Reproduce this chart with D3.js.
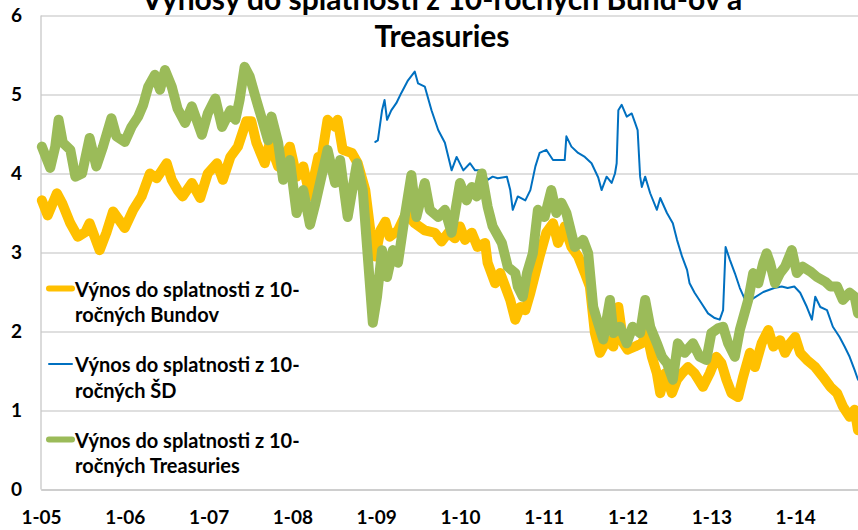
<!DOCTYPE html>
<html lang="sk">
<head>
<meta charset="UTF-8">
<title>Výnosy do splatnosti z 10-ročných Bund-ov a Treasuries</title>
<script src="https://cdn.jsdelivr.net/npm/d3@7"></script>
<style>
  html, body { margin: 0; padding: 0; background: #fff; }
  svg { display: block; font-family: Lato, "Open Sans", sans-serif; }
</style>
</head>
<body>
<div id="chart"></div>
<script>
// decimal years and yields (%)
var bundYears = [2005.01,2005.08,2005.19,2005.25,2005.35,2005.44,2005.53,2005.58,2005.70,2005.78,2005.86,
  2006.00,2006.10,2006.20,2006.30,2006.38,2006.50,2006.56,2006.63,2006.69,2006.80,2006.90,2006.99,
  2007.10,2007.17,2007.26,2007.35,2007.45,2007.51,2007.57,2007.67,2007.73,2007.83,2007.97,
  2008.05,2008.13,2008.21,2008.31,2008.35,2008.42,2008.51,2008.54,2008.60,2008.71,2008.78,2008.87,2008.93,2008.99,
  2009.05,2009.11,2009.16,2009.26,2009.36,2009.46,2009.58,2009.70,2009.78,2009.86,2009.94,
  2010.00,2010.06,2010.14,2010.21,2010.30,2010.33,2010.42,2010.48,2010.54,2010.60,2010.66,2010.72,2010.78,2010.84,2010.90,2010.95,
  2011.03,2011.11,2011.17,2011.25,2011.33,2011.41,2011.49,2011.55,2011.61,2011.67,2011.75,2011.83,2011.89,2011.95,
  2012.00,2012.09,2012.17,2012.23,2012.29,2012.35,2012.39,2012.45,2012.53,2012.59,2012.65,2012.72,2012.80,2012.90,2012.98,
  2013.06,2013.12,2013.18,2013.24,2013.32,2013.38,2013.46,2013.52,2013.60,2013.68,2013.74,2013.82,2013.88,2013.94,
  2014.00,2014.06,2014.14,2014.24,2014.33,2014.42,2014.50,2014.57,2014.65,2014.71,2014.75];
var bundValues = [3.66,3.47,3.75,3.63,3.37,3.20,3.26,3.37,3.03,3.25,3.52,
  3.31,3.54,3.71,4.00,3.94,4.13,3.92,3.79,3.71,3.88,3.69,4.00,
  4.13,3.92,4.21,4.34,4.66,4.66,4.39,4.13,4.39,4.09,4.34,
  3.96,4.09,3.71,4.21,4.21,4.68,4.59,4.68,4.30,4.26,4.13,3.79,3.28,2.95,
  3.28,3.39,3.20,3.28,3.50,3.37,3.28,3.25,3.14,3.25,3.18,
  3.33,3.16,3.25,3.07,3.12,2.87,2.61,2.74,2.57,2.40,2.15,2.31,2.27,2.49,2.74,2.95,
  3.25,3.37,3.12,3.33,3.07,2.95,2.74,2.57,1.98,1.73,1.89,1.81,2.31,1.85,
  1.77,1.81,1.85,1.98,1.68,1.47,1.22,1.47,1.22,1.39,1.47,1.55,1.47,1.30,1.47,
  1.68,1.60,1.39,1.22,1.17,1.43,1.73,1.55,1.85,2.02,1.81,1.89,1.73,1.85,
  1.93,1.73,1.64,1.55,1.43,1.30,1.22,1.05,0.92,1.01,0.75];

var sdYears = [2008.99,2009.02,2009.07,2009.10,2009.13,2009.18,2009.24,2009.30,2009.38,2009.46,2009.50,2009.58,2009.66,2009.74,2009.82,2009.90,2009.96,
  2010.04,2010.12,2010.18,2010.26,2010.33,2010.39,2010.45,2010.56,2010.60,2010.63,2010.69,2010.78,2010.84,2010.90,2010.95,
  2011.03,2011.11,2011.25,2011.27,2011.33,2011.41,2011.49,2011.57,2011.65,2011.69,2011.75,2011.81,2011.85,2011.87,2011.89,2011.93,2011.99,
  2012.05,2012.09,2012.12,2012.15,2012.17,2012.21,2012.27,2012.35,2012.39,2012.47,2012.54,2012.59,2012.65,2012.71,2012.74,2012.80,2012.88,2012.96,
  2013.04,2013.10,2013.14,2013.17,2013.22,2013.28,2013.34,2013.42,2013.50,2013.62,2013.75,2013.84,2013.91,2013.99,
  2014.06,2014.14,2014.20,2014.24,2014.30,2014.38,2014.45,2014.53,2014.59,2014.65,2014.71,2014.75];
var sdValues = [4.40,4.42,4.80,4.93,4.68,4.80,4.89,5.02,5.18,5.29,5.14,5.10,4.80,4.55,4.39,4.04,4.21,
  4.04,4.13,4.04,4.04,3.92,3.96,3.94,3.96,3.79,3.54,3.71,3.66,3.79,4.09,4.26,
  4.30,4.17,4.17,4.47,4.34,4.26,4.21,4.13,3.95,3.79,3.96,3.88,4.00,4.13,4.80,4.87,4.72,
  4.76,4.64,4.55,3.96,3.83,3.96,3.75,3.54,3.69,3.50,3.37,3.16,2.95,2.78,2.61,2.49,2.36,2.23,
  2.17,2.15,2.27,3.07,2.91,2.74,2.55,2.36,2.42,2.50,2.55,2.57,2.55,2.57,
  2.49,2.31,2.15,2.44,2.31,2.27,2.06,1.93,1.81,1.68,1.51,1.39];

var tsyYears = [2005.01,2005.11,2005.17,2005.21,2005.26,2005.35,2005.41,2005.49,2005.58,2005.66,2005.74,2005.84,2005.90,
  2006.00,2006.08,2006.16,2006.22,2006.28,2006.36,2006.42,2006.48,2006.56,2006.63,2006.72,2006.80,2006.92,2006.99,
  2007.08,2007.16,2007.26,2007.32,2007.37,2007.43,2007.49,2007.57,2007.65,2007.71,2007.75,2007.83,2007.89,2007.97,
  2008.05,2008.13,2008.21,2008.27,2008.33,2008.42,2008.51,2008.57,2008.66,2008.77,2008.84,2008.90,2008.96,
  2009.01,2009.07,2009.13,2009.20,2009.26,2009.34,2009.42,2009.48,2009.58,2009.64,2009.74,2009.82,2009.90,2009.94,
  2010.00,2010.08,2010.14,2010.20,2010.26,2010.33,2010.39,2010.50,2010.57,2010.66,2010.69,2010.75,2010.80,2010.87,2010.93,
  2011.01,2011.09,2011.15,2011.21,2011.27,2011.37,2011.47,2011.53,2011.59,2011.65,2011.71,2011.79,2011.83,2011.91,2011.99,
  2012.06,2012.15,2012.21,2012.27,2012.35,2012.41,2012.47,2012.54,2012.60,2012.68,2012.78,2012.86,2012.94,
  2013.00,2013.08,2013.14,2013.20,2013.28,2013.34,2013.44,2013.50,2013.56,2013.62,2013.66,2013.70,2013.76,2013.82,2013.88,2013.96,
  2014.02,2014.09,2014.18,2014.26,2014.36,2014.42,2014.50,2014.57,2014.65,2014.71,2014.75];
var tsyValues = [4.34,4.07,4.34,4.68,4.39,4.30,3.96,4.00,4.45,4.09,4.34,4.70,4.47,
  4.40,4.59,4.72,4.87,5.10,5.25,5.06,5.31,5.10,4.82,4.64,4.85,4.49,4.76,
  4.95,4.59,4.80,4.68,4.93,5.35,5.23,4.93,4.64,4.42,4.72,4.39,3.92,4.17,
  3.50,3.79,3.35,3.60,3.88,4.30,3.88,4.17,3.45,4.13,3.79,2.95,2.11,
  2.44,3.03,2.69,3.03,2.87,3.45,3.98,3.45,3.88,3.54,3.45,3.54,3.25,3.50,
  3.88,3.66,3.83,3.71,4.00,3.58,3.33,3.12,2.82,2.74,2.57,2.44,2.74,2.99,3.54,
  3.45,3.79,3.50,3.63,3.50,3.07,3.16,2.99,2.31,2.10,1.90,2.40,1.98,2.06,1.85,
  2.06,1.98,2.40,2.06,1.85,1.68,1.60,1.39,1.85,1.73,1.85,1.68,1.64,
  1.98,2.04,2.06,1.85,1.68,2.02,2.40,2.74,2.61,2.87,2.99,2.87,2.61,2.74,2.82,3.03,
  2.74,2.82,2.76,2.69,2.63,2.57,2.57,2.40,2.49,2.44,2.23];

var yearTicks = [2005,2006,2007,2008,2009,2010,2011,2012,2013,2014];
var yTicks = [0,1,2,3,4,5,6];
var titleLines = ["Výnosy do splatnosti z 10-ročných Bund-ov a", "Treasuries"];
var seriesNames = [["Výnos do splatnosti z 10-", "ročných Bundov"],
                   ["Výnos do splatnosti z 10-", "ročných ŠD"],
                   ["Výnos do splatnosti z 10-", "ročných Treasuries"]];
var colors = ["#FFC000", "#0070C0", "#9BBB59"];
var widths = [10, 2, 10];

var W = 858, H = 530;
var margin = {top: 15.5, right: 0, bottom: 40.5, left: 41};
var width = W - margin.left - margin.right,
    height = H - margin.top - margin.bottom;

var svg = d3.select("#chart").append("svg")
  .attr("width", W).attr("height", H);

var g = svg.append("g")
  .attr("transform", "translate(" + margin.left + "," + margin.top + ")");

var x = d3.scaleLinear().domain([2005, 2014.75]).range([0, width]);
var y = d3.scaleLinear().domain([0, 6]).range([height, 0]);

// gridlines
g.append("g")
  .attr("class", "grid")
  .call(d3.axisLeft(y).tickValues(yTicks).tickSize(-width).tickFormat(""))
  .call(function(s) {
    s.select(".domain").remove();
    s.selectAll("line").attr("stroke", "#d4d4d4").attr("stroke-width", 1.3);
  });

// left axis line
g.append("line")
  .attr("x1", 0).attr("x2", 0).attr("y1", 0).attr("y2", height)
  .attr("stroke", "#c8c8c8").attr("stroke-width", 1.3);

// y labels
g.append("g")
  .call(d3.axisLeft(y).tickValues(yTicks).tickSize(0).tickPadding(19).tickFormat(d3.format("d")))
  .call(function(s) {
    s.select(".domain").remove();
    s.selectAll("text")
      .attr("font-family", "Lato, sans-serif")
      .attr("font-weight", "bold")
      .attr("font-size", 19)
      .attr("fill", "#000");
  });

// x labels
g.append("g")
  .attr("transform", "translate(0," + height + ")")
  .call(d3.axisBottom(x).tickValues(yearTicks).tickSize(0).tickPadding(21)
    .tickFormat(function(d) { return "1-" + String(d).slice(2); }))
  .call(function(s) {
    s.select(".domain").attr("stroke", "#c8c8c8").attr("stroke-width", 1.3);
    s.selectAll("text")
      .attr("font-family", "Lato, sans-serif")
      .attr("font-weight", "bold")
      .attr("font-size", 19)
      .attr("fill", "#000");
  });

var line = d3.line()
  .x(function(d) { return x(d[0]); })
  .y(function(d) { return y(d[1]); });

var series = [
  d3.zip(bundYears, bundValues),
  d3.zip(sdYears, sdValues),
  d3.zip(tsyYears, tsyValues)
];

series.forEach(function(data, i) {
  g.append("path")
    .datum(data)
    .attr("fill", "none")
    .attr("stroke", colors[i])
    .attr("stroke-width", widths[i])
    .attr("stroke-linejoin", "round")
    .attr("stroke-linecap", "round")
    .attr("d", line);
});

// title (partly cut off at the top)
var title = svg.append("text")
  .attr("text-anchor", "middle")
  .attr("font-family", "Lato, sans-serif")
  .attr("font-weight", "bold")
  .attr("font-size", 30)
  .attr("fill", "#000");
title.selectAll("tspan").data(titleLines).enter().append("tspan")
  .attr("x", 442)
  .attr("y", function(d, i) { return 10 + i * 37; })
  .text(function(d) { return d; });

// legend
var legend = svg.append("g");
var legendBase = [296.5, 372, 447.5];
seriesNames.forEach(function(lines, i) {
  var b = legendBase[i];
  legend.append("line")
    .attr("x1", 49).attr("x2", 72)
    .attr("y1", b - 8).attr("y2", b - 8)
    .attr("stroke", colors[i])
    .attr("stroke-width", i === 1 ? 2 : 6)
    .attr("stroke-linecap", "round");
  var t = legend.append("text")
    .attr("font-family", "Lato, sans-serif")
    .attr("font-weight", "bold")
    .attr("font-size", 20)
    .attr("fill", "#000");
  lines.forEach(function(s, j) {
    t.append("tspan").attr("x", 75).attr("y", b + j * 25.5).text(s);
  });
});
</script>
</body>
</html>
